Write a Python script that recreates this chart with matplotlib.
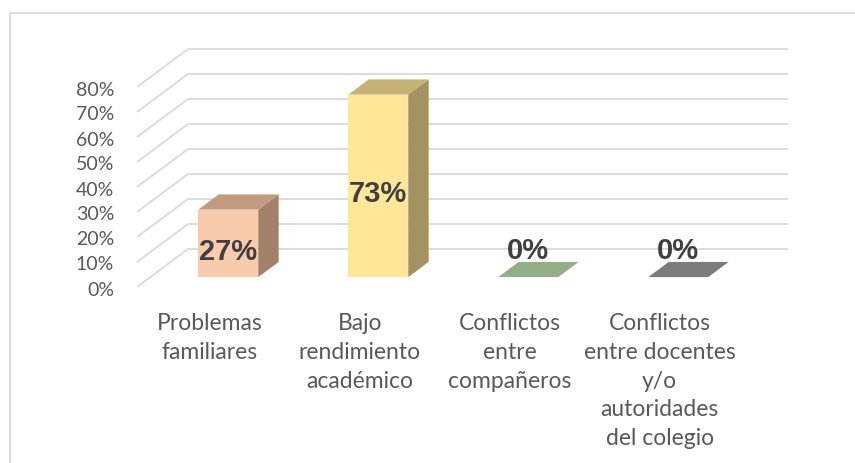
import matplotlib
matplotlib.use('Agg')
import matplotlib.pyplot as plt
from matplotlib.patches import Polygon, Rectangle

# Data
categories = ['Problemas\nfamiliares',
              'Bajo\nrendimiento\nacadémico',
              'Conflictos\nentre\ncompañeros',
              'Conflictos\nentre docentes\ny/o\nautoridades\ndel colegio']
values = [27, 73, 0, 0]
value_labels = ['27%', '73%', '0%', '0%']
ticks = [0, 10, 20, 30, 40, 50, 60, 70, 80]
tick_labels = ['0%', '10%', '20%', '30%', '40%', '50%', '60%', '70%', '80%']

front_colors = ['#F8CBAD', '#FFE699', '#A9C69C', '#8F8B8B']
top_colors = ['#C29A80', '#C6B274', '#94AE88', '#7F7B7B']
side_colors = ['#A3806A', '#A39360', '#7C9270', '#6A6666']

# oblique 3D projection settings (category units / percent units)
DX, DY = 0.34, 15.2
D0, D1 = 0.26, 0.66      # bar front / back depth
HALF_W = 0.2
GRID_COLOR = '#D9D9D9'

fig = plt.figure(figsize=(8.55, 4.64), dpi=100)
ax = fig.add_axes([0, 0, 1, 1])
ax.set_xlim(-1.4333, 4.2667)
ax.set_ylim(-70.4, 115.2)
ax.axis('off')

# border of the chart area
fig.add_artist(Rectangle((10 / 855, -0.1), 1.0, 1 - 14 / 464 + 0.1,
                         transform=fig.transFigure, fill=False,
                         edgecolor=GRID_COLOR, lw=1.3))

# side wall diagonals and back wall gridlines
x_left, x_right = -0.52, 3.48
for t in ticks:
    ax.plot([x_left, x_left + DX, x_right + DX], [t, t + DY, t + DY],
            color=GRID_COLOR, lw=1.3, solid_capstyle='butt', zorder=1)

for lab, t in zip(tick_labels, ticks):
    ax.text(-0.673, t - 0.8, lab, ha='right', va='center', fontsize=14,
            family='Lato', color='#595959')


def pt(x, y, d):
    return (x + d * DX, y + d * DY)


for i, v in enumerate(values):
    xl, xr = i - HALF_W, i + HALF_W
    top = [pt(xl, v, D0), pt(xr, v, D0), pt(xr, v, D1), pt(xl, v, D1)]
    if v > 0:
        front = [pt(xl, 0, D0), pt(xr, 0, D0), pt(xr, v, D0), pt(xl, v, D0)]
        side = [pt(xr, 0, D0), pt(xr, 0, D1), pt(xr, v, D1), pt(xr, v, D0)]
        ax.add_patch(Polygon(side, closed=True, fc=side_colors[i], ec='none', zorder=3))
        ax.add_patch(Polygon(front, closed=True, fc=front_colors[i], ec='none', zorder=3))
    ax.add_patch(Polygon(top, closed=True, fc=top_colors[i], ec='none', zorder=3))

    cx = i + D0 * DX
    if v > 0:
        ax.text(cx, v / 2 + 1, value_labels[i], ha='center', va='center',
                fontsize=21, fontweight='bold', family='Liberation Sans',
                color='#404040', zorder=5)
    else:
        ax.text(cx, 11.6, value_labels[i], ha='center', va='baseline',
                fontsize=21, fontweight='bold', family='Liberation Sans',
                color='#404040', zorder=5)

# category labels
for i, lab in enumerate(categories):
    ax.text(i - 0.035, -10.2, lab, ha='center', va='top',
            fontsize=16.5, family='Lato', color='#595959', linespacing=1.45)

fig.savefig('out.png', dpi=100)
